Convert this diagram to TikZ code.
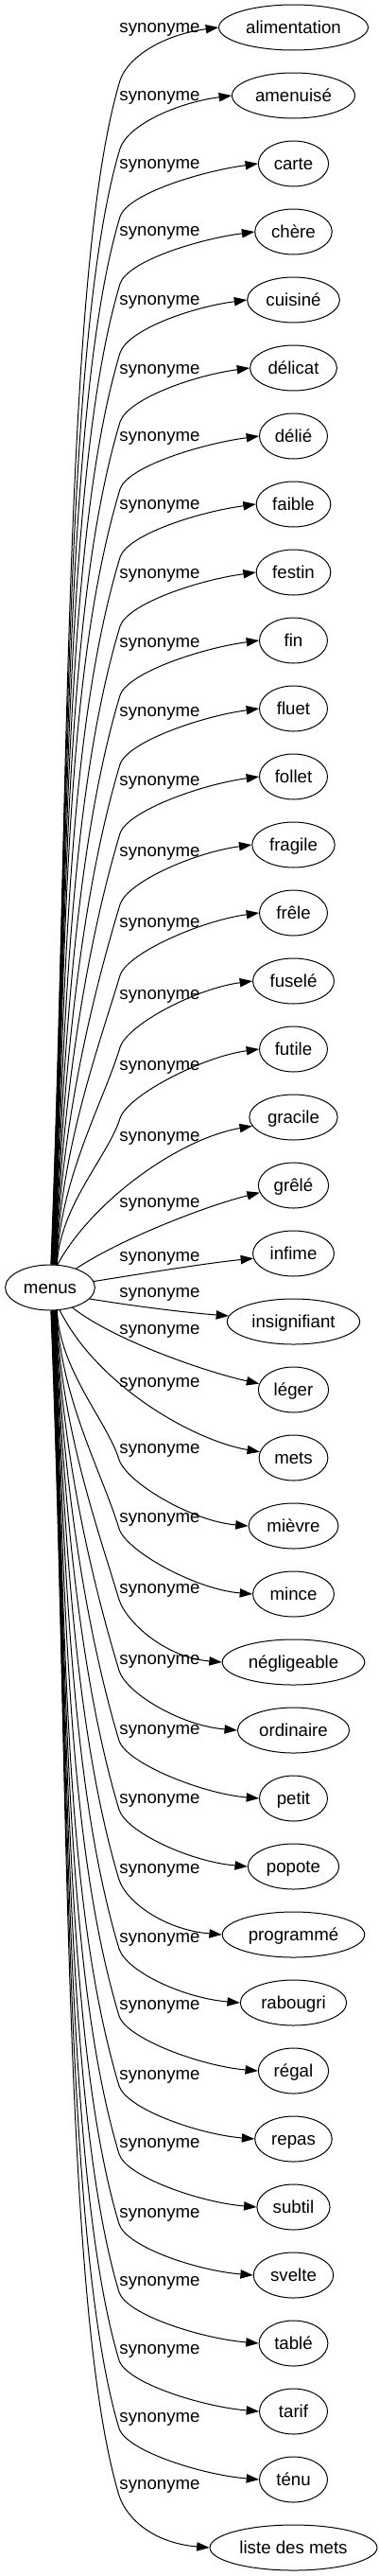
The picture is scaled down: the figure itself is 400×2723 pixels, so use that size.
\documentclass[tikz,border=0pt]{standalone}
\usepackage{fontspec}
\setmainfont{Liberation Sans}
\usetikzlibrary{shapes.geometric,arrows.meta}
\newcommand\upedge[2]{%
 \pgfmathsetmacro\myBy{#2+54}%
 \pgfmathsetmacro\myD{1337-\myBy}%
 \pgfmathsetmacro\myLa{0.4*\myD}%
 \pgfmathsetmacro\myLb{min(0.25*\myD,200)}%
 \pgfmathtruncatemacro\myAng{88-#1}%
 \draw[link] (menus.\myAng) .. controls +({0.04*\myLa},{-\myLa}) and +({-0.3*\myLb},{\myLb}) .. (127,\myBy) .. controls +(8,-24) and +(-60,8) .. (n#1.west);
}
\newcommand\downedge[2]{%
 \pgfmathsetmacro\myBy{#2+10}%
 \pgfmathsetmacro\myD{\myBy-1385}%
 \pgfmathsetmacro\myLa{0.4*\myD}%
 \pgfmathsetmacro\myLb{min(0.25*\myD,200)}%
 \pgfmathtruncatemacro\myAng{309-#1}%
 \draw[link] (menus.\myAng) .. controls +({0.04*\myLa},{\myLa}) and +({-0.3*\myLb},{-\myLb}) .. (126,\myBy) .. controls +(8,24) and +(-60,-5) .. (n#1.west);
}
\begin{document}
\begin{tikzpicture}[x=0.75pt,y=-0.75pt,
  word/.style={ellipse,draw,line width=0.75pt,inner xsep=4.125pt,inner ysep=0pt,
    minimum width=54pt,minimum height=36pt,text height=10pt,text depth=1pt,
    font=\fontsize{14pt}{16pt}\selectfont},
  rel/.style={inner sep=0pt,font=\fontsize{14pt}{16pt}\selectfont},
  link/.style={draw,line width=0.75pt,-{Triangle[length=10pt,width=7pt]}}]
\useasboundingbox (0,0) rectangle (400,2723);
\node[word] (menus) at (53,1361) {menus};
\foreach \i/\t in {0/alimentation,1/amenuisé,2/carte,3/chère,4/cuisiné,5/délicat,6/délié,7/faible,8/festin,9/fin,10/fluet,11/follet,12/fragile,13/frêle,14/fuselé,15/futile,16/gracile,17/grêlé,18/infime,19/insignifiant,20/léger,21/mets,22/mièvre,23/mince,24/négligeable,25/ordinaire,26/petit,27/popote,28/programmé,29/rabougri,30/régal,31/repas,32/subtil,33/svelte,34/tablé,35/tarif,36/ténu,37/liste des mets}
  \node[word] (n\i) at (310.5,{29+72*\i}) {\t};
\foreach \i/\ly in {0/31,1/103,2/175,3/246,4/319,5/392,6/463,7/535,8/608,9/681,10/754,11/827,12/902,13/977,14/1053,15/1128,16/1203,17/1273,18/1330,19/1368,20/1407,21/1463,22/1533,23/1606,24/1681,25/1756,26/1830,27/1903,28/1977,29/2050,30/2121,31/2195,32/2267,33/2341,34/2413,35/2485,36/2557,37/2628}
  \node[rel] (l\i) at (169,\ly) {synonyme};
\foreach \i/\ly in {0/31,1/103,2/175,3/246,4/319,5/392,6/463,7/535,8/608,9/681,10/754,11/827,12/902,13/977,14/1053,15/1128}
  {\upedge{\i}{\ly}}
\draw[link] (menus.72) .. controls +(35,-65) and +(-80,14) .. (n16.192);
\draw[link] (menus.36) .. controls +(45,-30) and +(-60,15) .. (n17.192);
\draw[link] (menus.8) .. controls +(50,-8) and +(-50,5) .. (n18.187);
\draw[link] (menus.344) .. controls +(50,8) and +(-50,-4) .. (n19.175);
\draw[link] (menus.318) .. controls +(45,35) and +(-55,-12) .. (n20.170);
\draw[link] (menus.293) .. controls +(40,80) and +(-70,-12) .. (n21.170);
\foreach \i/\ly in {22/1533,23/1606,24/1681,25/1756,26/1830,27/1903,28/1977,29/2050,30/2121,31/2195,32/2267,33/2341,34/2413,35/2485,36/2557,37/2628}
  {\downedge{\i}{\ly}}
\end{tikzpicture}
\end{document}
